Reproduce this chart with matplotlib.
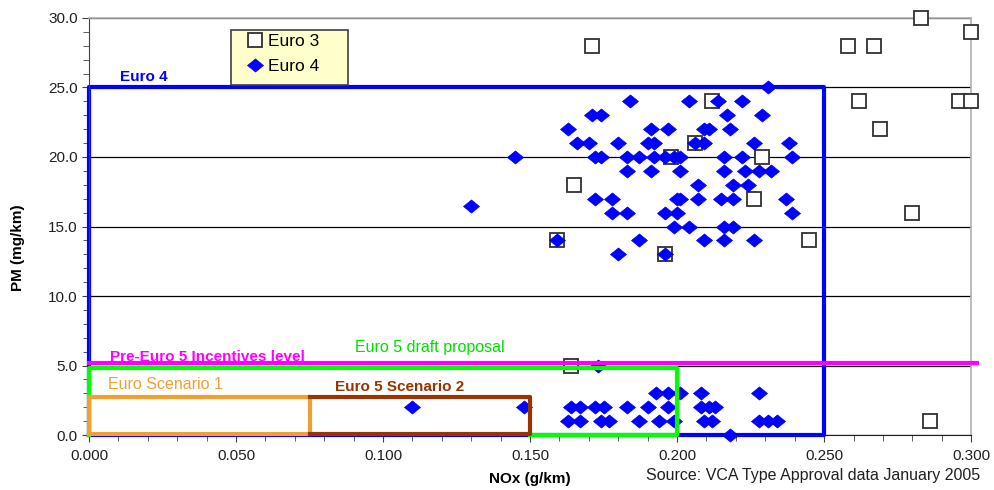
import matplotlib.pyplot as plt
from matplotlib.patches import Rectangle
from matplotlib.ticker import MultipleLocator, FormatStrFormatter

plt.rcParams['font.family'] = ['Liberation Sans', 'DejaVu Sans']

# Euro 3 vehicles (NOx g/km, PM mg/km)
euro3_nox = [0.283, 0.300, 0.258, 0.267, 0.171, 0.262, 0.296, 0.300, 0.212, 0.269,
             0.206, 0.198, 0.229, 0.165, 0.226, 0.280, 0.245, 0.159, 0.196, 0.164, 0.286]
euro3_pm = [30, 29, 28, 28, 28, 24, 24, 24, 24, 22,
            21, 20, 20, 18, 17, 16, 14, 14, 13, 5, 1]

# Euro 4 vehicles
euro4_nox = [0.231,
             0.184, 0.204, 0.214, 0.222,
             0.171, 0.174, 0.217, 0.229,
             0.163, 0.191, 0.197, 0.209, 0.211, 0.218,
             0.166, 0.170, 0.180, 0.190, 0.192, 0.206, 0.209, 0.226, 0.238,
             0.145, 0.172, 0.174, 0.183, 0.187, 0.192, 0.196, 0.199, 0.201, 0.216, 0.222, 0.239,
             0.183, 0.191, 0.201, 0.216, 0.223, 0.228, 0.232,
             0.207, 0.219, 0.224,
             0.172, 0.178, 0.200, 0.201, 0.207, 0.215, 0.219, 0.237,
             0.130,
             0.178, 0.183, 0.196, 0.200, 0.239,
             0.199, 0.204, 0.216, 0.219,
             0.159, 0.187, 0.209, 0.216, 0.226,
             0.180, 0.196,
             0.173,
             0.193, 0.197, 0.201, 0.208, 0.228,
             0.110, 0.148, 0.164, 0.167, 0.172, 0.175, 0.183, 0.190, 0.197, 0.208, 0.211, 0.213,
             0.163, 0.167, 0.174, 0.177, 0.187, 0.194, 0.199, 0.209, 0.212, 0.228, 0.231, 0.234,
             0.218]
euro4_pm = [25,
            24, 24, 24, 24,
            23, 23, 23, 23,
            22, 22, 22, 22, 22, 22,
            21, 21, 21, 21, 21, 21, 21, 21, 21,
            20, 20, 20, 20, 20, 20, 20, 20, 20, 20, 20, 20,
            19, 19, 19, 19, 19, 19, 19,
            18, 18, 18,
            17, 17, 17, 17, 17, 17, 17, 17,
            16.5,
            16, 16, 16, 16, 16,
            15, 15, 15, 15,
            14, 14, 14, 14, 14,
            13, 13,
            5,
            3, 3, 3, 3, 3,
            2, 2, 2, 2, 2, 2, 2, 2, 2, 2, 2, 2,
            1, 1, 1, 1, 1, 1, 1, 1, 1, 1, 1, 1,
            0]

# limit boxes: (nox limit, pm limit)
euro4_limit = (0.25, 25.0)
draft_limit = (0.20, 4.85)
scen1_limit = (0.075, 2.7)
scen2_limit = (0.075, 0.15, 2.75)
incentive_pm = 5.15

# slightly wide diamond, like the original
wide_diamond = [(-1.0, 0.0), (0.0, 0.82), (1.0, 0.0), (0.0, -0.82), (-1.0, 0.0)]

fig = plt.figure(figsize=(9.94, 4.9), dpi=100)
ax = fig.add_axes([0.0895, 0.1122, 0.8875, 0.8511])

ax.set_xlim(0, 0.3)
ax.set_ylim(0, 30)

ax.xaxis.set_major_locator(MultipleLocator(0.05))
ax.xaxis.set_minor_locator(MultipleLocator(0.01))
ax.yaxis.set_major_locator(MultipleLocator(5))
ax.yaxis.set_minor_locator(MultipleLocator(1))
ax.xaxis.set_major_formatter(FormatStrFormatter('%.3f'))
ax.yaxis.set_major_formatter(FormatStrFormatter('%.1f'))
ax.tick_params(axis='both', which='major', labelsize=11, length=5, color='#404040',
               labelcolor='#202020', pad=3)
ax.tick_params(axis='x', which='major', pad=5)
ax.tick_params(axis='both', which='minor', length=4, color='#404040')

ax.grid(axis='y', color='black', linewidth=0.9, zorder=0)
ax.get_ygridlines()[-1].set_visible(False)
ax.set_axisbelow(True)
for side in ['top', 'right']:
    ax.spines[side].set_color('#B0B0B0')
    ax.spines[side].set_linewidth(1.2)
ax.spines['left'].set_color('#404040')
ax.spines['bottom'].set_color('#202020')

# Euro 4 box
x4, y4 = euro4_limit
ax.plot([0, 0, x4, x4, 0], [0, y4, y4, 0, 0], color='#0000FF', lw=3, zorder=2, clip_on=False)
ax.text(0.0105, 25.5, 'Euro 4', color='#0000FF', fontsize=11, fontweight='bold')

# markers
ax.plot(euro3_nox, euro3_pm, 's', ms=9.5, mfc='white', mec='#303030', mew=1.3,
        ls='none', label='Euro 3', zorder=3, clip_on=False)
ax.plot(euro4_nox, euro4_pm, marker=wide_diamond, ms=11.5, mfc='#0000FF', mec='#0000FF',
        mew=0.5, ls='none', label='Euro 4', zorder=4, clip_on=False)

# Euro 5 draft proposal box
xd, yd = draft_limit
ax.plot([0.15, xd, xd, 0, 0], [0, 0, yd, yd, 0], color='#00FF00', lw=3, zorder=5, clip_on=False)
ax.text(0.0905, 6.0, 'Euro 5 draft proposal', color='#00E000', fontsize=11.5)

# incentive level
ax.plot([0, 0.302], [incentive_pm, incentive_pm], color='#FF00FF', lw=3, zorder=5, clip_on=False)
ax.text(0.007, 5.3, 'Pre-Euro 5 Incentives level', color='#FF00FF', fontsize=11, fontweight='bold')

# scenario 1 / 2 boxes
xs1, ys1 = scen1_limit
ax.plot([0, xs1, xs1, 0, 0], [0.1, 0.1, ys1, ys1, 0.1], color='#F0A030', lw=3, zorder=6, clip_on=False)
ax.text(0.0065, 3.3, 'Euro Scenario 1', color='#F0A030', fontsize=11.5)
xa, xb, ys2 = scen2_limit
ax.plot([xa, xb, xb, xa], [ys2, ys2, 0.05, 0.05], color='#993300', lw=3, zorder=6, clip_on=False)
ax.text(0.0837, 3.2, 'Euro 5 Scenario 2', color='#993300', fontsize=11, fontweight='bold')

ax.set_xlabel('NOx (g/km)', fontsize=11, fontweight='bold')
ax.xaxis.set_label_coords(0.5, -0.088)
ax.set_ylabel('PM (mg/km)', fontsize=11, fontweight='bold')
ax.yaxis.set_label_coords(-0.072, 0.45)

# legend box drawn as a patch so its padding can match
ax.add_patch(Rectangle((0.161, 0.839), 0.133, 0.132, transform=ax.transAxes,
                       facecolor='#FFFFCC', edgecolor='#404040', lw=1.2,
                       zorder=7, clip_on=False))
leg = ax.legend(loc='upper left', bbox_to_anchor=(0.172, 0.975), fontsize=12.5,
                frameon=False, handletextpad=0.3, borderpad=0.3,
                handlelength=1.0, labelspacing=0.6, borderaxespad=0)
leg.set_zorder(8)

fig.text(0.986, 0.015, 'Source: VCA Type Approval data January 2005', ha='right',
         va='bottom', fontsize=11.5, color='#202020')

fig.savefig('out.png', dpi=100)
